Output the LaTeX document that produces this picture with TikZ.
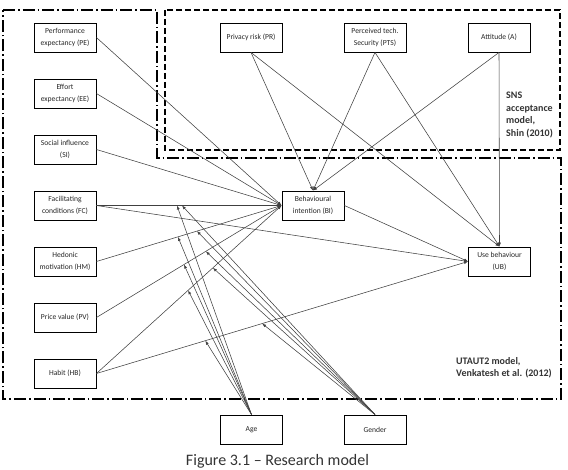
\documentclass[tikz,border=0pt]{standalone}
\usepackage{fontspec}
\setmainfont{Carlito}
\usetikzlibrary{arrows.meta}

\begin{document}
\begin{tikzpicture}[x=1pt, y=-1pt,
  box/.style={draw, line width=0.9pt, minimum width=62pt, minimum height=29pt, align=center,
    inner sep=1pt, font=\fontsize{7.6}{11.5}\selectfont, text=black!85},
  link/.style={draw=black!75, line width=0.55pt},
  arr/.style={link, -{Latex[length=4pt,width=3pt]}},
  lab/.style={font=\fontsize{10}{12.5}\selectfont\bfseries, align=left, text=black!80, inner sep=0pt}
]
\useasboundingbox (0,0) rectangle (568,470);

% model borders
\draw[line width=1.1pt, dash pattern=on 6pt off 3pt] (165,10) rectangle (560,150);
\draw[line width=1.1pt, dash pattern=on 12pt off 3pt on 1.5pt off 3pt]
  (3,10) -- (157,10) -- (157,158) -- (561,158) -- (561,399) -- (3,399) -- cycle;

% constructs
\foreach \n/\t [count=\i from 0] in {pe/{Performance\\expectancy (PE)}, ee/{Effort\\expectancy (EE)},
    si/{Social influence\\(SI)}, fc/{Facilitating\\conditions (FC)}, hm/{Hedonic\\motivation (HM)},
    pv/{Price value (PV)}, hb/{Habit (HB)}}
  \node[box] (\n) at (65,37.5+56*\i) {\t};
\foreach \n/\t/\x in {pr/{Privacy risk (PR)}/251, pts/{Perceived tech.\\Security (PTS)}/375, att/{Attitude (A)}/499}
  \node[box] (\n) at (\x,37.5) {\t};
\node[box] (bi) at (313,205.5) {Behavioural\\intention (BI)};
\node[box] (ub) at (499.5,261.5) {Use behaviour\\(UB)};
\node[box] (age) at (251.5,429.5) {Age};
\node[box] (gender) at (375,429.5) {Gender};

% paths
\foreach \n in {pe,ee,si}
  \draw[arr] (\n.east) -- (bi.west);
\foreach \n/\pa/\pg in {fc/0.435/0.462, hm/0.44/0.543, pv/0.473/0.591, hb/0.495/0.629}
  \draw[arr] (\n.east) -- coordinate[pos=\pa] (\n-age) coordinate[pos=\pg] (\n-gen) (bi.west);
\draw[arr] (hb.east) -- coordinate[pos=0.293] (hbub-age) coordinate[pos=0.446] (hbub-gen) (ub.west);
\draw[arr] (fc.east) -- (ub.west);
\draw[arr] (bi.east) -- (ub.west);
\foreach \n in {pr,pts,att} {
  \draw[arr] (\n.south) -- (bi.north);
  \draw[arr] (\n.south) -- (ub.north);
}

% moderators
\foreach \t in {fc,hm,pv,hb,hbub} {
  \draw[arr] (age.north) -- (\t-age);
  \draw[arr] (gender.north) -- (\t-gen);
}

\node[lab, anchor=north west] (snslab) at (506,92) {SNS\\acceptance\\model,\\Shin (2010)};
\node[lab, anchor=north west] (utlab) at (456,357) {UTAUT2 model,\\Venkatesh et al. (2012)};
\node[font=\fontsize{16}{18}\selectfont, text=black!80, anchor=base] (caption) at (277.5,465.5) {Figure 3.1 -- Research model};
\end{tikzpicture}
\end{document}
